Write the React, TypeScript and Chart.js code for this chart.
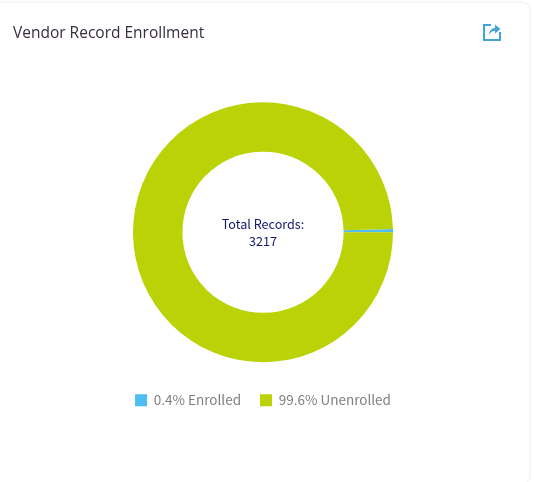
import React, { useEffect, useRef } from "react";
import { Chart, registerables } from "chart.js";

Chart.register(...registerables);

const categories = ["0.4% Enrolled", "99.6% Unenrolled"];
const shares = [0.4, 99.6];
const sliceColors = ["#4FBDEF", "#BBD206"];
const centerLines = ["Total Records:", "3217"];
const chartTitle = "Vendor Record Enrollment";

const centerText = {
  id: "centerText",
  afterDraw(chart: any) {
    const { ctx, chartArea } = chart;
    const cx = (chartArea.left + chartArea.right) / 2;
    const cy = (chartArea.top + chartArea.bottom) / 2;
    ctx.save();
    ctx.font = '12.6px "Noto Sans CJK JP"';
    ctx.fillStyle = "#14186A";
    ctx.textAlign = "center";
    ctx.textBaseline = "middle";
    ctx.fillText(centerLines[0], cx, cy - 8);
    ctx.fillText(centerLines[1], cx, cy + 9);
    ctx.restore();
  },
};

export default function App() {
  const ref = useRef<HTMLCanvasElement>(null);
  useEffect(() => {
    document.body.style.margin = "0";
    document.body.style.background = "#fff";
    const chart = new Chart(ref.current!, {
      type: "doughnut",
      data: {
        labels: categories,
        datasets: [{ data: shares, backgroundColor: sliceColors, borderWidth: 0, radius: 130 }],
      },
      options: {
        responsive: false,
        animation: false,
        rotation: 88.6,
        cutout: "62%",
        layout: { padding: { top: 90, bottom: 65 } },
        plugins: {
          tooltip: { enabled: false },
          legend: {
            position: "bottom",
            labels: {
              boxWidth: 12,
              boxHeight: 12,
              padding: 19,
              color: "#808080",
              font: { family: '"Noto Sans CJK JP"', size: 13.5 },
            },
          },
        },
      },
      plugins: [centerText],
    });
    return () => chart.destroy();
  }, []);

  return (
    <div style={{ position: "relative", width: 534, height: 482, overflow: "hidden" }}>
      <div
        style={{
          position: "absolute",
          left: -10,
          top: 3,
          width: 539,
          height: 480,
          borderRadius: 6,
          background: "#fff",
          boxShadow: "0 0 3px rgba(0,0,0,0.12)",
        }}
      />
      <canvas ref={ref} width={526} height={482} style={{ position: "absolute", left: 0, top: 0 }} />
      <div
        style={{
          position: "absolute",
          left: 13,
          top: 21,
          font: '15.5px "Open Sans", sans-serif',
          color: "#372C40",
          whiteSpace: "nowrap",
        }}
      >
        {chartTitle}
      </div>
      <svg
        style={{ position: "absolute", left: 483, top: 22 }}
        width={18}
        height={19}
        viewBox="0 0 18 19"
      >
        <path d="M8 3H1v15h16v-8" fill="none" stroke="#3FA5D6" strokeWidth={2} />
        <path d="M6 13c0-4 2.200-6.500 6-7V2.500l5.500 4.500-5.500 4.500V8.800c-2.500 0-4.500 1.400-6 4.200z" fill="#3FA5D6" />
      </svg>
    </div>
  );
}
